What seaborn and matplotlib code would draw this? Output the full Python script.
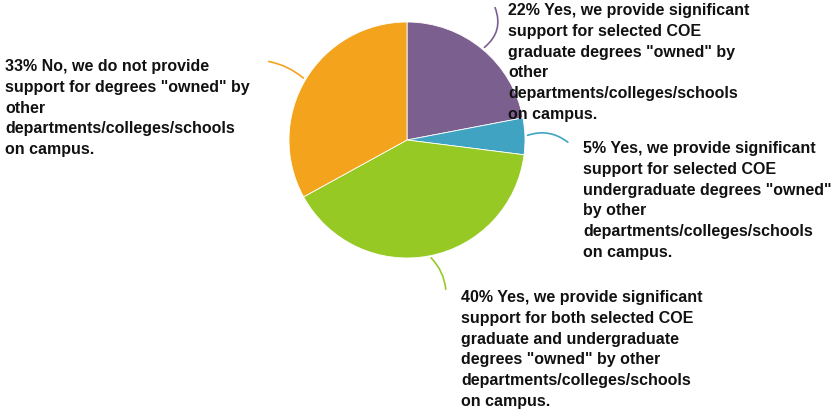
import numpy as np
import matplotlib
matplotlib.use("Agg")
import matplotlib.pyplot as plt
import seaborn as sns

shares = [22, 5, 40, 33]
labels = [
    '22% Yes, we provide significant\nsupport for selected COE\ngraduate degrees "owned" by\nother\ndepartments/colleges/schools\non campus.',
    '5% Yes, we provide significant\nsupport for selected COE\nundergraduate degrees "owned"\nby other\ndepartments/colleges/schools\non campus.',
    '40% Yes, we provide significant\nsupport for both selected COE\ngraduate and undergraduate\ndegrees "owned" by other\ndepartments/colleges/schools\non campus.',
    '33% No, we do not provide\nsupport for degrees "owned" by\nother\ndepartments/colleges/schools\non campus.',
]
colors = ["#7b5f8f", "#41a3c2", "#97c925", "#f4a41c"]

sns.set_style("white")
plt.rcParams['font.family'] = ['Liberation Sans', 'DejaVu Sans']

W, H = 834, 410
fig = plt.figure(figsize=(W / 100, H / 100), dpi=100)
cx, cy, r = 407, 141, 118
ax = fig.add_axes([(cx - r) / W, 1 - (cy + r) / H, 2 * r / W, 2 * r / H])

wedges, _ = ax.pie(shares, colors=colors, startangle=90, counterclock=False,
                   radius=1, wedgeprops=dict(linewidth=0.6, edgecolor="white"))
ax.set_xlim(-1, 1)
ax.set_ylim(-1, 1)
ax.set_aspect("equal")
ax.axis("off")

# label text positions (top-left, figure pixels from top) and leader-line ends
text_pos = [(508, 3), (583, 141), (461, 290), (5, 59)]
line_end = [(494, 6), (570, 145), (446, 293), (266, 62)]
rads = [-0.4, 0.3, 0.2, -0.15]

for w, lab, col, (tx, ty), (lx, ly), rad in zip(wedges, labels, colors, text_pos, line_end, rads):
    mid = np.deg2rad((w.theta1 + w.theta2) / 2)
    ax.annotate("", xy=(np.cos(mid), np.sin(mid)), xycoords="data",
                xytext=(lx, H - ly), textcoords="figure pixels",
                arrowprops=dict(arrowstyle="-", color=col, lw=1.2,
                                connectionstyle=f"arc3,rad={rad}"))
    fig.text(tx / W, 1 - ty / H, lab, ha="left", va="top", fontsize=11.5,
             fontweight="bold", color="#111111", linespacing=1.48)

fig.savefig("out.png", dpi=100)
